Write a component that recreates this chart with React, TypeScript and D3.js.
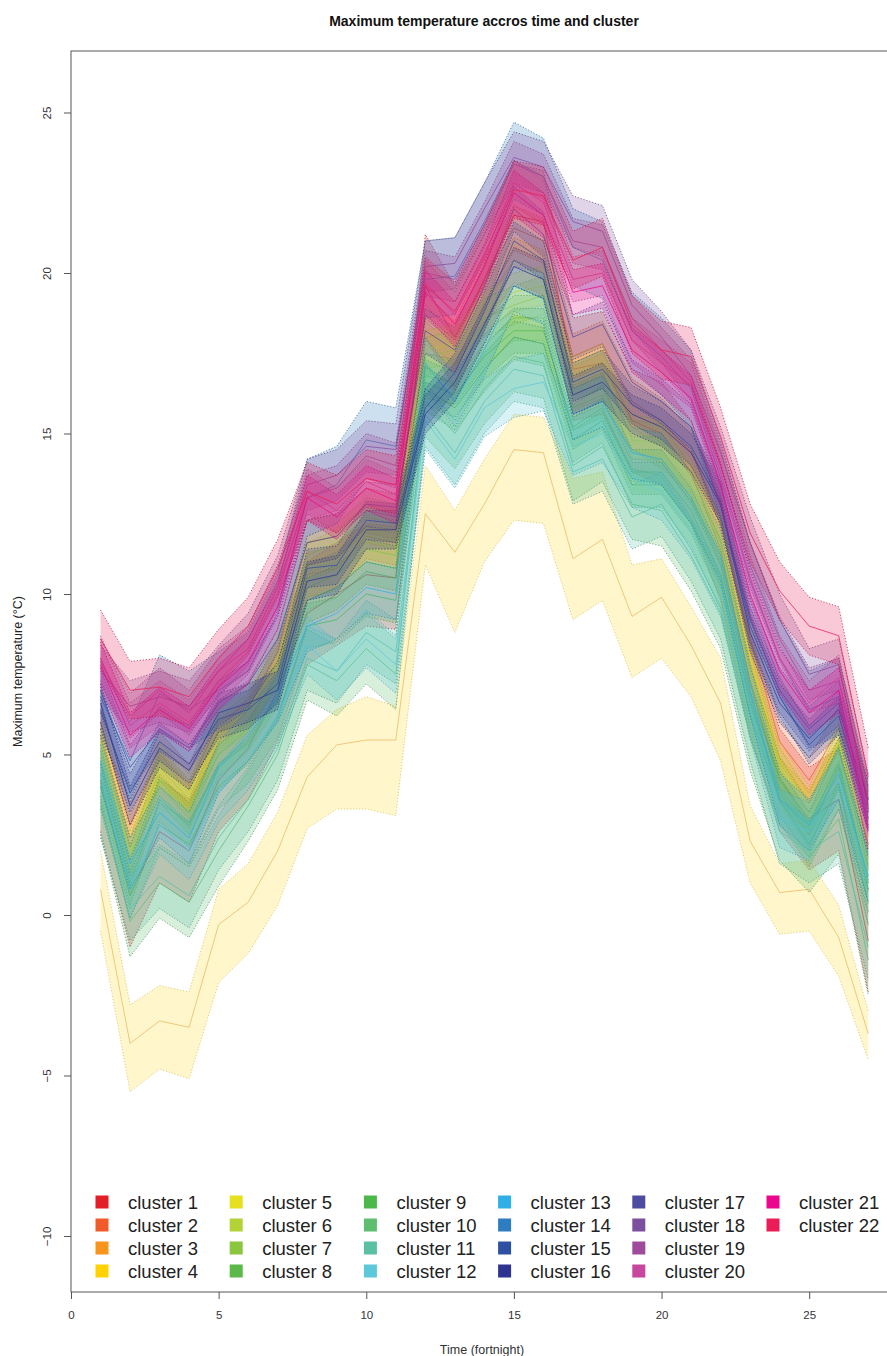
import React, { useRef, useEffect } from 'react'
import * as d3 from 'd3'

// fortnights on the x axis
const fortnights = [1, 2, 3, 4, 5, 6, 7, 8, 9, 10, 11, 12, 13, 14, 15, 16, 17, 18, 19, 20, 21, 22, 23, 24, 25, 26, 27]

const clusterNames = [
  'cluster 1', 'cluster 2', 'cluster 3', 'cluster 4', 'cluster 5', 'cluster 6',
  'cluster 7', 'cluster 8', 'cluster 9', 'cluster 10', 'cluster 11', 'cluster 12',
  'cluster 13', 'cluster 14', 'cluster 15', 'cluster 16', 'cluster 17', 'cluster 18',
  'cluster 19', 'cluster 20', 'cluster 21', 'cluster 22',
]

const clusterColors = [
  '#e41e26', '#f15a29', '#f7941d', '#ffd200', '#e6e01e', '#b2d235',
  '#8cc63f', '#5cb848', '#4cb84a', '#5ebd6e', '#5bbfa3', '#5cc8da',
  '#2eb0e6', '#2f7dc1', '#2e50a2', '#2e3590', '#4e4ca0', '#7c4f9f',
  '#a04a9d', '#c8479e', '#ec058d', '#ec1c59',
]

// mean maximum temperature per cluster, one value per fortnight
const meanTmax = [
  [4.2, 0.6, 2.6, 2.0, 4.2, 5.2, 7.0, 9.4, 10.0, 10.6, 10.5, 19.6, 18.0, 19.8, 21.8, 21.6, 17.0, 17.2, 15.4, 15.0, 13.8, 11.4, 7.2, 4.2, 3.0, 3.6, -0.8],
  [6.0, 2.8, 5.0, 4.0, 6.0, 6.6, 8.2, 11.6, 11.8, 12.6, 12.4, 18.6, 17.8, 19.8, 21.4, 21.0, 17.4, 17.8, 16.0, 15.4, 14.4, 12.4, 8.6, 5.4, 4.2, 5.8, 2.2],
  [5.6, 2.4, 4.4, 3.4, 5.4, 6.0, 7.4, 10.6, 10.8, 11.8, 11.6, 17.8, 17.0, 19.0, 20.4, 20.0, 16.4, 16.8, 15.2, 14.6, 13.8, 11.6, 7.6, 4.2, 3.2, 4.8, 1.4],
  [0.8, -4.0, -3.3, -3.5, -0.3, 0.4, 2.0, 4.3, 5.3, 5.45, 5.45, 12.5, 11.3, 12.8, 14.5, 14.4, 11.1, 11.7, 9.3, 9.9, 8.4, 6.6, 2.3, 0.7, 0.8, -0.7, -3.7],
  [5.4, 2.0, 4.8, 3.8, 5.8, 6.4, 8.0, 11.0, 11.4, 12.2, 12.0, 17.6, 17.8, 18.8, 19.4, 19.6, 16.8, 17.2, 15.0, 14.8, 13.6, 11.8, 8.0, 4.8, 3.4, 5.4, 1.8],
  [5.2, 1.8, 4.6, 3.6, 5.6, 6.3, 7.8, 11.2, 11.6, 12.4, 12.2, 17.4, 17.6, 18.6, 19.0, 19.3, 16.6, 17.0, 14.8, 14.7, 13.4, 11.6, 7.8, 4.6, 3.2, 5.2, 1.6],
  [4.8, 1.4, 4.2, 3.2, 5.0, 5.8, 7.2, 10.2, 10.6, 11.4, 11.2, 16.8, 16.6, 17.8, 18.6, 18.6, 15.8, 16.2, 14.2, 14.2, 13.0, 11.0, 7.0, 4.2, 2.8, 4.8, 1.0],
  [4.4, 1.0, 3.6, 2.8, 4.6, 5.4, 6.8, 9.8, 10.2, 11.0, 10.8, 16.6, 16.2, 17.4, 18.2, 18.2, 15.2, 15.8, 13.8, 13.8, 12.6, 10.6, 6.6, 3.8, 2.5, 4.6, 0.8],
  [4.0, 0.6, 2.8, 2.2, 4.0, 4.8, 6.2, 9.0, 9.2, 10.0, 9.8, 16.4, 15.8, 17.0, 18.0, 17.8, 14.8, 15.4, 13.4, 13.4, 12.2, 10.2, 6.2, 3.6, 2.2, 4.0, 0.4],
  [3.6, -0.2, 1.0, 0.4, 2.0, 3.4, 5.0, 7.8, 7.3, 8.3, 7.5, 16.0, 15.0, 16.4, 17.4, 17.2, 14.0, 14.6, 12.8, 12.6, 11.2, 9.4, 5.6, 2.8, 1.8, 3.0, -1.4],
  [3.4, 0.2, 1.2, 0.6, 2.4, 3.6, 5.2, 8.0, 7.6, 8.8, 8.2, 15.6, 14.4, 16.0, 17.0, 16.8, 13.8, 14.2, 12.4, 12.8, 11.4, 9.6, 5.8, 2.6, 2.0, 2.6, -1.0],
  [4.4, 0.8, 2.8, 2.0, 3.8, 4.8, 6.2, 8.4, 7.6, 8.6, 7.8, 15.4, 14.2, 15.8, 16.4, 16.6, 14.6, 15.0, 13.6, 13.2, 12.0, 10.2, 6.4, 3.0, 2.6, 4.2, 1.0],
  [4.8, 1.6, 3.2, 2.4, 4.6, 5.6, 6.8, 9.0, 9.4, 10.2, 10.0, 17.2, 16.0, 17.6, 19.6, 19.2, 15.6, 16.0, 14.4, 14.2, 13.0, 11.2, 7.0, 3.6, 2.8, 4.4, 1.2],
  [6.8, 4.8, 6.9, 6.4, 7.0, 7.6, 9.4, 13.0, 13.4, 14.8, 14.6, 19.8, 19.9, 21.6, 23.5, 23.0, 20.8, 20.4, 18.2, 17.4, 16.4, 13.6, 10.4, 8.0, 6.4, 6.8, 3.0],
  [6.4, 3.8, 5.4, 4.7, 6.1, 6.4, 7.2, 10.8, 10.9, 12.3, 12.2, 15.8, 16.9, 18.8, 21.0, 20.4, 16.6, 17.0, 15.9, 15.4, 14.6, 12.9, 9.0, 6.8, 5.3, 6.2, 3.2],
  [6.6, 3.4, 5.2, 4.5, 6.3, 6.6, 7.0, 10.4, 10.6, 12.0, 12.0, 15.6, 16.6, 18.4, 20.2, 19.8, 16.2, 16.6, 15.6, 15.2, 14.4, 12.8, 8.8, 6.6, 5.5, 6.4, 3.6],
  [7.0, 4.6, 5.8, 5.2, 6.6, 7.2, 8.6, 11.6, 11.8, 12.8, 12.7, 18.2, 17.6, 19.6, 22.0, 21.2, 18.0, 18.4, 16.6, 16.0, 15.2, 12.8, 9.2, 7.0, 5.8, 6.6, 3.3],
  [7.6, 6.5, 6.8, 6.5, 7.6, 8.6, 10.4, 13.4, 13.7, 14.6, 14.5, 20.2, 20.3, 22.0, 23.6, 23.3, 21.6, 21.3, 19.0, 18.0, 16.8, 14.4, 11.6, 9.2, 7.5, 7.8, 3.6],
  [7.9, 6.2, 7.0, 6.3, 7.6, 8.3, 10.2, 13.0, 13.3, 14.3, 14.0, 20.0, 19.8, 21.5, 23.4, 23.0, 21.0, 20.8, 18.6, 17.6, 16.6, 14.0, 10.9, 8.6, 7.0, 7.3, 3.3],
  [8.0, 5.9, 6.6, 6.0, 7.3, 8.2, 10.0, 13.2, 12.6, 13.5, 13.1, 19.7, 18.7, 20.5, 22.8, 22.2, 19.8, 20.0, 17.9, 17.2, 16.5, 13.8, 10.5, 8.0, 6.6, 7.4, 3.2],
  [7.8, 5.6, 6.4, 5.8, 7.1, 7.9, 9.6, 13.0, 12.4, 13.3, 12.9, 19.4, 18.4, 20.2, 22.5, 21.8, 19.4, 19.6, 17.6, 16.9, 16.1, 13.4, 10.0, 7.6, 6.3, 7.0, 2.7],
  [8.6, 7.0, 7.1, 6.8, 8.0, 9.0, 10.8, 13.2, 12.8, 13.6, 13.4, 19.6, 18.8, 20.6, 22.6, 22.4, 20.4, 20.8, 18.4, 17.6, 17.4, 14.9, 11.9, 10.1, 9.0, 8.7, 4.3],
]

// half width of each cluster's ribbon
const ribbonHalfWidth = [1.6, 0.7, 0.7, 1.3, 0.6, 0.6, 0.7, 0.7, 0.7, 1.1, 1.0, 0.9, 0.8, 1.2, 0.6, 0.6, 0.7, 0.8, 0.7, 0.7, 0.7, 0.9]

// cluster 4 has a lopsided ribbon, so its bounds are read directly
const cluster4Low = [-0.5, -5.5, -4.8, -5.1, -2.1, -1.2, 0.3, 2.7, 3.3, 3.3, 3.1, 10.9, 8.8, 11.0, 12.3, 12.2, 9.2, 9.8, 7.4, 8.0, 6.8, 4.8, 1.0, -0.6, -0.5, -1.9, -4.5]
const cluster4High = [2.0, -2.8, -2.2, -2.4, 0.8, 1.6, 3.2, 5.6, 6.4, 6.8, 6.5, 14.0, 12.6, 14.2, 15.6, 15.5, 13.6, 13.8, 10.9, 11.1, 9.6, 8.0, 3.4, 1.6, 1.7, 0.3, -3.0]

const xTicks = [0, 5, 10, 15, 20, 25]
const yTicks = [-10, -5, 0, 5, 10, 15, 20, 25]

interface point {
  t: number;
  mean: number;
  low: number;
  high: number;
}

const width = 887
const height = 1356
const plot = { left: 71, right: 883, top: 51, bottom: 1292 }
const font = '"Liberation Sans", Arial, Helvetica, sans-serif'

const App: React.FC = () => {
  const ref = useRef<SVGSVGElement | null>(null)

  useEffect(() => {
    if (!ref.current) return
    const svg = d3.select(ref.current)
    svg.selectAll('*').remove()

    const x = d3.scaleLinear().domain([0, 27.5]).range([plot.left, plot.right])
    const y = d3.scaleLinear().domain([-11.745, 26.916]).range([plot.bottom, plot.top])

    const area = d3.area<point>()
      .x(d => x(d.t))
      .y0(d => y(d.low))
      .y1(d => y(d.high))
    const meanLine = d3.line<point>().x(d => x(d.t)).y(d => y(d.mean))
    const lowEdge = d3.line<point>().x(d => x(d.t)).y(d => y(d.low))
    const highEdge = d3.line<point>().x(d => x(d.t)).y(d => y(d.high))

    const ribbons = svg.append('g')

    meanTmax.forEach((values, i) => {
      const col = clusterColors[i]
      const pts: point[] = values.map((v, k) => ({
        t: fortnights[k],
        mean: v,
        low: i === 3 ? cluster4Low[k] : v - ribbonHalfWidth[i],
        high: i === 3 ? cluster4High[k] : v + ribbonHalfWidth[i],
      }))
      const g = ribbons.append('g')
      g.append('path')
        .attr('d', area(pts))
        .attr('fill', col)
        .attr('fill-opacity', i === 3 ? 0.2 : 0.24)
        .attr('stroke', 'none')

      // dotted ribbon edges
      const edge = d3.color(col)!.darker(0.7).formatHex()
      ;[lowEdge, highEdge].forEach(gen => {
        g.append('path')
          .attr('d', gen(pts))
          .attr('fill', 'none')
          .attr('stroke', edge)
          .attr('stroke-width', 1)
          .attr('stroke-dasharray', '1.2,1.8')
          .attr('stroke-opacity', i === 3 ? 0.5 : 0.75)
      })
      g.append('path')
        .attr('d', meanLine(pts))
        .attr('fill', 'none')
        .attr('stroke', i === 3 ? '#e0a030' : col)
        .attr('stroke-width', 0.9)
        .attr('stroke-opacity', i === 3 ? 0.6 : 0.85)
    })

    // box
    svg.append('rect')
      .attr('x', plot.left)
      .attr('y', plot.top)
      .attr('width', plot.right + 10 - plot.left)
      .attr('height', plot.bottom - plot.top)
      .attr('fill', 'none')
      .attr('stroke', '#555')
      .attr('stroke-width', 1)

    // axes
    const xAxis = svg.append('g')
      .attr('transform', `translate(0,${plot.bottom})`)
      .call(d3.axisBottom(x).tickValues(xTicks).tickSize(7).tickPadding(12).tickFormat(d3.format('d')))
    xAxis.select('.domain').remove()
    xAxis.selectAll('line').attr('stroke', '#555')
    xAxis.selectAll('text').attr('font-family', font).attr('font-size', 11.5).attr('fill', '#333')

    const yAxis = svg.append('g')
      .attr('transform', `translate(${plot.left},0)`)
      .call(d3.axisLeft(y).tickValues(yTicks).tickSize(7).tickFormat(d3.format('d')))
    yAxis.select('.domain').remove()
    yAxis.selectAll('line').attr('stroke', '#555')
    yAxis.selectAll('text')
      .attr('font-family', font)
      .attr('font-size', 11.5)
      .attr('fill', '#333')
      .attr('x', null)
      .attr('dy', null)
      .attr('text-anchor', 'middle')
      .attr('transform', 'translate(-20,0) rotate(-90)')

    // titles
    svg.append('text')
      .attr('x', 484)
      .attr('y', 26)
      .attr('text-anchor', 'middle')
      .attr('font-family', font)
      .attr('font-weight', 'bold')
      .attr('font-size', 14)
      .attr('fill', '#111')
      .text('Maximum temperature accros time and cluster')

    svg.append('text')
      .attr('x', 482)
      .attr('y', 1354)
      .attr('text-anchor', 'middle')
      .attr('font-family', font)
      .attr('font-size', 12.5)
      .attr('fill', '#333')
      .text('Time (fortnight)')

    svg.append('text')
      .attr('transform', `translate(22,${(plot.top + plot.bottom) / 2}) rotate(-90)`)
      .attr('text-anchor', 'middle')
      .attr('font-family', font)
      .attr('font-size', 12.5)
      .attr('fill', '#222')
      .text('Maximum temperature (°C)')

    // legend, 6 columns of 4
    const legend = svg.append('g')
    clusterNames.forEach((name, i) => {
      const col = Math.floor(i / 4)
      const row = i % 4
      const cx = 102 + col * 134.2
      const cy = 1202 + row * 23
      legend.append('rect')
        .attr('x', cx - 6.5)
        .attr('y', cy - 6.5)
        .attr('width', 13)
        .attr('height', 13)
        .attr('fill', clusterColors[i])
      legend.append('text')
        .attr('x', cx + 26)
        .attr('y', cy + 6.5)
        .attr('font-family', font)
        .attr('font-size', 18.5)
        .attr('fill', '#222')
        .text(name)
    })
  }, [])

  return (
    <svg
      ref={ref}
      width={width}
      height={height}
      style={{ position: 'absolute', left: 0, top: 0, background: '#fff' }}
    />
  )
}

export default App
